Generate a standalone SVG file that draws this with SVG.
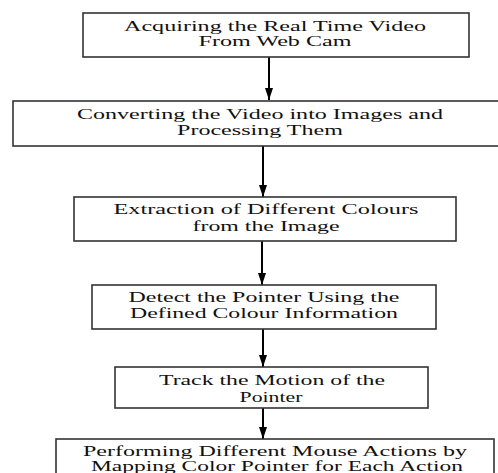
<svg xmlns="http://www.w3.org/2000/svg" width="498" height="473" viewBox="0 0 498 473">
<style>
.box{fill:#fff;stroke:#333;stroke-width:1.6}
.t{font-family:'Liberation Serif', 'Times New Roman', Times, serif;font-size:15px;fill:#111;text-anchor:middle}
.c{stroke:#000;stroke-width:2;fill:none}
</style>
<defs>
<marker id="ah" viewBox="0 0 12 8" refX="12" refY="4" markerWidth="12" markerHeight="8" markerUnits="userSpaceOnUse" orient="auto">
<path d="M0,0 L12,4 L0,8 Z" fill="#000"/>
</marker>
</defs>
<rect width="498" height="473" fill="#fff"/>
<g id="connectors">
<line class="c" x1="269" y1="57" x2="269" y2="100" marker-end="url(#ah)"/>
<line class="c" x1="263" y1="146" x2="263" y2="197" marker-end="url(#ah)"/>
<line class="c" x1="262" y1="241" x2="262" y2="285" marker-end="url(#ah)"/>
<line class="c" x1="263" y1="329" x2="263" y2="367" marker-end="url(#ah)"/>
<line class="c" x1="263" y1="408" x2="263" y2="439" marker-end="url(#ah)"/>
</g>
<g id="n1">
<rect class="box" x="83" y="13" width="386" height="44"/>
<text class="t" x="275" y="31" textLength="302" lengthAdjust="spacingAndGlyphs">Acquiring the Real Time Video</text>
<text class="t" x="275" y="46" textLength="153" lengthAdjust="spacingAndGlyphs">From Web Cam</text>
</g>
<g id="n2">
<rect class="box" x="13" y="101" width="495" height="45"/>
<text class="t" x="260" y="119" textLength="366" lengthAdjust="spacingAndGlyphs">Converting the Video into Images and</text>
<text class="t" x="260" y="135" textLength="166" lengthAdjust="spacingAndGlyphs">Processing Them</text>
</g>
<g id="n3">
<rect class="box" x="74" y="197" width="382" height="44"/>
<text class="t" x="266" y="214" textLength="305" lengthAdjust="spacingAndGlyphs">Extraction of  Different Colours</text>
<text class="t" x="266" y="231" textLength="147" lengthAdjust="spacingAndGlyphs">from the Image</text>
</g>
<g id="n4">
<rect class="box" x="92" y="285" width="344" height="44"/>
<text class="t" x="264" y="302" textLength="271" lengthAdjust="spacingAndGlyphs">Detect the Pointer Using the</text>
<text class="t" x="264" y="318" textLength="268" lengthAdjust="spacingAndGlyphs">Defined Colour Information</text>
</g>
<g id="n5">
<rect class="box" x="115" y="367" width="313" height="41"/>
<text class="t" x="272" y="385" textLength="226" lengthAdjust="spacingAndGlyphs">Track the Motion of the</text>
<text class="t" x="271" y="402" textLength="63" lengthAdjust="spacingAndGlyphs">Pointer</text>
</g>
<g id="n6">
<rect class="box" x="56" y="439" width="438" height="45"/>
<text class="t" x="275" y="456" textLength="384" lengthAdjust="spacingAndGlyphs">Performing Different Mouse Actions by</text>
<text class="t" x="277" y="471" textLength="372" lengthAdjust="spacingAndGlyphs">Mapping Color Pointer for Each Action</text>
</g>
</svg>
